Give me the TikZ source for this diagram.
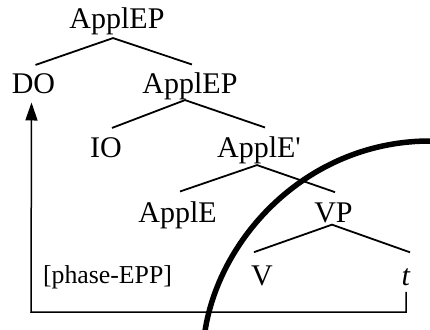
\documentclass[tikz,border=0pt]{standalone}
\usepackage{fontspec}
\setmainfont{Liberation Serif}
\usetikzlibrary{arrows.meta}

\begin{document}
\begin{tikzpicture}[x=1pt, y=-1pt,
    lab/.style={anchor=base, inner sep=0pt, font=\fontsize{30}{36}\selectfont},
    branch/.style={line width=1.8pt},
    moveline/.style={line width=1.5pt}]
    \useasboundingbox (0,0) rectangle (430,329);

    % tree labels
    \node[lab] (applep) at (117, 29) {ApplEP};
    \node[lab] (do) at (33.5, 93) {DO};
    \node[lab] (applep2) at (190, 93) {ApplEP};
    \node[lab] (io) at (106, 157) {IO};
    \node[lab] (applebar) at (259, 157) {ApplE\textquotesingle};
    \node[lab] (apple) at (177.5, 222) {ApplE};
    \node[lab] (vp) at (333.5, 222) {VP};
    \node[lab] (v) at (262, 285) {V};
    \node[lab] (t) at (406, 285) {\textit{t}};
    \node[lab, font=\fontsize{25.8}{30}\selectfont] (phase) at (107.5, 283) {[phase-EPP]};

    % branches
    \draw[branch] ([xshift=2pt,yshift=8pt]do.north) -- ([xshift=-4pt,yshift=-2.5pt]applep.south)
        -- ([xshift=2pt,yshift=7.5pt]applep2.north);
    \draw[branch] ([xshift=6pt,yshift=9pt]io.north) -- ([xshift=-5pt,yshift=-0.5pt]applep2.south)
        -- ([xshift=6pt,yshift=8.5pt]applebar.north);
    \draw[branch] ([xshift=2.5pt,yshift=9.5pt]apple.north) -- ([xshift=-2pt,yshift=-1.5pt]applebar.south)
        -- ([xshift=1.5pt,yshift=10pt]vp.north);
    \draw[branch] ([xshift=-8pt,yshift=13pt]v.north) -- ([xshift=-1.5pt,yshift=-2pt]vp.south)
        -- ([xshift=4pt,yshift=15.6pt]t.north);

    % movement
    \coordinate (low) at (31, 312);
    \draw[moveline, -{Triangle[length=18pt,width=12pt]}] ([yshift=-6.5pt]t.south) |- (low)
        -- ([xshift=-2pt,yshift=-9pt]do.south);

    % phase boundary
    \draw[line width=5.5pt] (205,331) .. controls (220,235) and (310,140) .. (432,141);
\end{tikzpicture}
\end{document}
